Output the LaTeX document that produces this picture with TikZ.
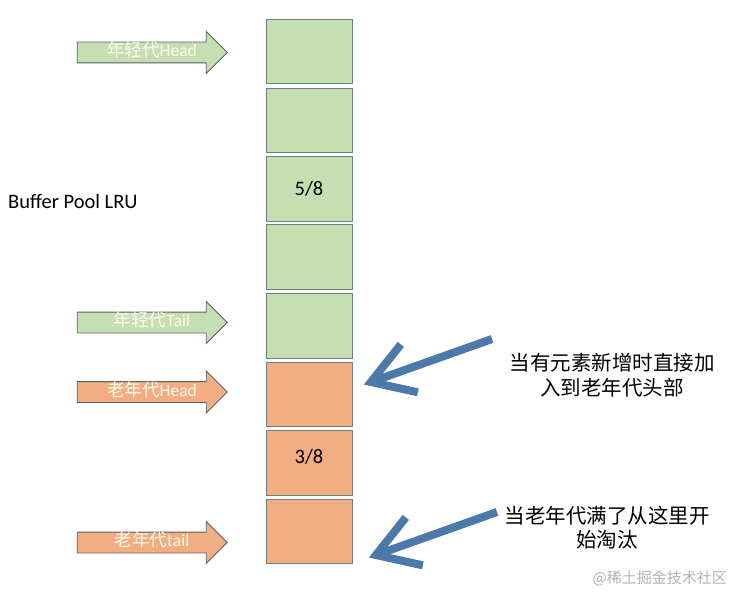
\documentclass[tikz,border=0pt]{standalone}
\usepackage{fontspec}
\setmainfont{Carlito}
\newfontfamily\cjk{Noto Sans CJK SC}
\usetikzlibrary{shapes.arrows,calc}
\definecolor{gfill}{HTML}{C5DFB2}
\definecolor{ofill}{HTML}{F2AE82}
\definecolor{bordc}{HTML}{6B7F86}
\definecolor{arrbord}{HTML}{56636A}
\definecolor{bluearr}{HTML}{4A79AA}
\definecolor{labtxt}{HTML}{FFFBEA}
\tikzset{
  cell/.style={draw=bordc, line width=1pt, minimum width=86pt, minimum height=64.5pt, inner sep=0pt, font=\fontsize{20}{24}\selectfont},
  gcell/.style={cell, fill=gfill},
  ocell/.style={cell, fill=ofill},
  blockarrow/.style={single arrow, draw=arrbord, line width=0.9pt, minimum height=150pt, minimum width=41pt,
     single arrow head extend=10.5pt, single arrow tip angle=90, inner xsep=2pt, inner ysep=2pt,
     text height=12pt, text depth=4pt, text=labtxt, font=\fontsize{17.5}{18}\selectfont},
  garrow/.style={blockarrow, fill=gfill},
  oarrow/.style={blockarrow, fill=ofill},
  bigarrow/.style={draw=bluearr, line width=8pt, line cap=butt, line join=miter},
  note/.style={align=center, font=\cjk\fontsize{20.5}{24.5}\selectfont, inner sep=0pt},
}
\begin{document}
\begin{tikzpicture}[x=1pt,y=-1pt]
\useasboundingbox (0,0) rectangle (744,604);
% cells
\node[gcell] (c1) at (309.5,51.5) {};
\node[gcell] (c2) at (309.5,120.5) {};
\node[gcell] (c3) at (309.5,189) {};
\node[gcell] (c4) at (309.5,257) {};
\node[gcell] (c5) at (309.5,326) {};
\node[ocell] (c6) at (309.5,394.5) {};
\node[ocell] (c7) at (309.5,463) {};
\node[ocell] (c8) at (309.5,531.5) {};
\node[font=\fontsize{20.5}{24}\selectfont] (t58) at (309,189) {5/8};
\node[font=\fontsize{20.5}{24}\selectfont] (t38) at (309,457) {3/8};
% block arrows
\node[garrow] (a1) at (147,52.5) {\hspace*{10pt}{\cjk 年轻代}Head};
\node[garrow] (a2) at (147,322.5) {\hspace*{10pt}{\cjk 年轻代}Tail};
\node[oarrow] (a3) at (147,392) {\hspace*{10pt}{\cjk 老年代}Head};
\node[oarrow] (a4) at (147,542.5) {\hspace*{10pt}{\cjk 老年代}tail};
% title
\node[anchor=west, font=\fontsize{20.5}{24}\selectfont, inner sep=0pt] (title) at (8,201) {Buffer Pool LRU};
% notes
\node[note] (n1) at (612,375) {当有元素新增时直接加\\入到老年代头部};
\node[note] (n2) at (607,527.5) {当老年代满了从这里开\\始淘汰};
\node[font=\cjk\fontsize{15}{18}\selectfont, text=black!30, anchor=east, inner sep=0pt] (wm) at (727,578) {@稀土掘金技术社区};
% blue arrows
\coordinate (s1) at (492,339);
\coordinate (p1) at (371,382);
\coordinate (s2) at (497,512);
\coordinate (p2) at (376,555);
\draw[bigarrow] (s1) -- (p1);
\draw[bigarrow] ($(p1)!48pt!32:(s1)$) -- (p1) -- ($(p1)!48pt!-32:(s1)$);
\draw[bigarrow] (s2) -- (p2);
\draw[bigarrow] ($(p2)!48pt!32:(s2)$) -- (p2) -- ($(p2)!48pt!-32:(s2)$);
\end{tikzpicture}
\end{document}
